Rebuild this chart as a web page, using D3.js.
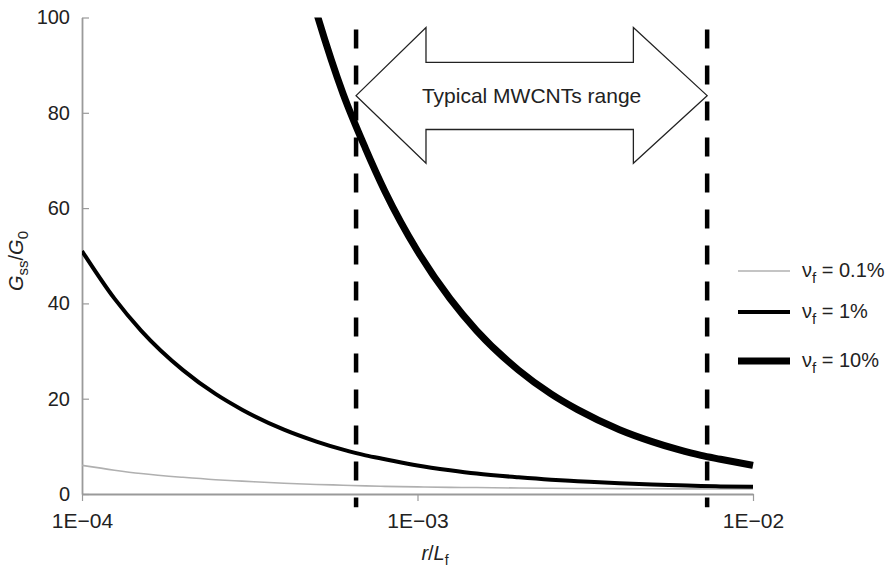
<!DOCTYPE html>
<html>
<head>
<meta charset="utf-8">
<style>
  body { margin: 0; background: #fff; }
  svg { font-family: 'Liberation Sans', Arial, sans-serif; }
  .tick text { font-size: 20px; fill: #222; }
  .x .tick text { font-size: 21px; }
  .axis .domain { stroke: #9a9a9a; stroke-width: 1.8; }
  .axis .tick line { stroke: #9a9a9a; stroke-width: 1.2; }
  .legend text { font-size: 20px; fill: #222; }
  .axis-label { font-size: 20px; fill: #222; }
</style>
</head>
<body>
<svg width="892" height="569"></svg>
<script src="https://d3js.org/d3.v7.min.js"></script>
<script>
  // r/Lf sample points and G_ss/G_0
  const rRatio = [1e-4, 1.25e-4, 1.5e-4, 2e-4, 2.5e-4, 3e-4, 4e-4, 5e-4, 6e-4, 7e-4, 8e-4,
                  1e-3, 1.25e-3, 1.5e-3, 2e-3, 2.5e-3, 3e-3, 4e-3, 5e-3, 6e-3, 7e-3, 8e-3, 1e-2];
  const g01 = [6, 5, 4.3, 3.5, 3, 2.7, 2.25, 2, 1.85, 1.7, 1.6,
               1.5, 1.4, 1.35, 1.25, 1.2, 1.17, 1.13, 1.1, 1.08, 1.07, 1.06, 1.05];
  const g1 = [51, 41, 34.3, 26, 21, 17.7, 13.5, 11, 9.3, 8.1, 7.3,
              6, 5, 4.3, 3.5, 3, 2.7, 2.25, 2, 1.85, 1.7, 1.6, 1.5];
  const g10 = [null, null, null, null, null, null, 126, 101, 84, 72.5, 63.5,
               51, 41, 34.3, 26, 21, 17.7, 13.5, 11, 9.3, 8.1, 7.3, 6];

  const seriesLabels = ["0.1%", "1%", "10%"];

  const xTicks = [1e-4, 1e-3, 1e-2];
  const xTickLabels = ["1E\u221204", "1E\u221203", "1E\u221202"];
  const yTicks = [0, 20, 40, 60, 80, 100];

  // typical MWCNT range (dashed lines) and the double arrow between them
  const rangeBounds = [6.56e-4, 7.3e-3];
  const arrowHeadX = [1.06e-3, 4.4e-3];
  const arrowTipY = 83.6;
  const arrowHeadY = [97.9, 69.4];
  const arrowShaftY = [90.6, 76.5];

  const margin = { top: 17.5, right: 139, bottom: 75, left: 82 };
  const width = 892, height = 569;

  const svg = d3.select("svg");

  const x = d3.scaleLog()
    .domain([1e-4, 1e-2])
    .range([margin.left, width - margin.right]);

  const y = d3.scaleLinear()
    .domain([0, 100])
    .range([height - margin.bottom, margin.top]);

  svg.append("defs").append("clipPath")
    .attr("id", "plot-clip")
    .append("rect")
    .attr("x", margin.left)
    .attr("y", margin.top)
    .attr("width", width - margin.left - margin.right + 4)
    .attr("height", height - margin.top - margin.bottom);

  // axes
  svg.append("g")
    .attr("class", "axis x")
    .attr("transform", `translate(0,${height - margin.bottom})`)
    .call(d3.axisBottom(x)
      .tickValues(xTicks)
      .tickFormat((d, i) => xTickLabels[i])
      .tickSize(7)
      .tickSizeOuter(0)
      .tickPadding(12));

  svg.append("g")
    .attr("class", "axis y")
    .attr("transform", `translate(${margin.left},0)`)
    .call(d3.axisLeft(y)
      .tickValues(yTicks)
      .tickSize(-7)
      .tickSizeOuter(0)
      .tickPadding(12));

  // curves
  const lineData = [
    { vals: g01, stroke: "#b0b0b0", w: 1.6 },
    { vals: g1, stroke: "#000", w: 4 },
    { vals: g10, stroke: "#000", w: 7 }
  ];

  const line = d3.line()
    .defined(d => d[1] != null)
    .x(d => x(d[0]))
    .y(d => y(d[1]))
    .curve(d3.curveMonotoneX);

  svg.append("g")
    .attr("clip-path", "url(#plot-clip)")
    .selectAll("path")
    .data(lineData)
    .join("path")
    .attr("fill", "none")
    .attr("stroke", d => d.stroke)
    .attr("stroke-width", d => d.w)
    .attr("d", d => line(rRatio.map((r, i) => [r, d.vals[i]])));

  // dashed range lines
  svg.append("g")
    .selectAll("line")
    .data(rangeBounds)
    .join("line")
    .attr("x1", d => x(d))
    .attr("x2", d => x(d))
    .attr("y1", y(97.5))
    .attr("y2", y(-2.8))
    .attr("stroke", "#000")
    .attr("stroke-width", 4.5)
    .attr("stroke-dasharray", "19,17");

  // double-headed block arrow
  const pts = [
    [x(rangeBounds[0]), y(arrowTipY)],
    [x(arrowHeadX[0]), y(arrowHeadY[0])],
    [x(arrowHeadX[0]), y(arrowShaftY[0])],
    [x(arrowHeadX[1]), y(arrowShaftY[0])],
    [x(arrowHeadX[1]), y(arrowHeadY[0])],
    [x(rangeBounds[1]), y(arrowTipY)],
    [x(arrowHeadX[1]), y(arrowHeadY[1])],
    [x(arrowHeadX[1]), y(arrowShaftY[1])],
    [x(arrowHeadX[0]), y(arrowShaftY[1])],
    [x(arrowHeadX[0]), y(arrowHeadY[1])]
  ];
  svg.append("path")
    .attr("d", "M" + pts.join("L") + "Z")
    .attr("fill", "#fff")
    .attr("stroke", "#222")
    .attr("stroke-width", 1.3);

  svg.append("text")
    .attr("x", (x(rangeBounds[0]) + x(rangeBounds[1])) / 2)
    .attr("y", y(arrowTipY) + 7)
    .attr("text-anchor", "middle")
    .attr("font-size", 21)
    .attr("fill", "#222")
    .text("Typical MWCNTs range");

  // legend
  const legendY = [271, 312, 361];
  const legend = svg.append("g").attr("class", "legend");
  lineData.forEach((d, i) => {
    legend.append("line")
      .attr("x1", 738).attr("x2", 790)
      .attr("y1", legendY[i]).attr("y2", legendY[i])
      .attr("stroke", d.stroke)
      .attr("stroke-width", d.w);
    const t = legend.append("text")
      .attr("x", 802)
      .attr("y", legendY[i] + 6);
    t.append("tspan").text("\u03bd");
    t.append("tspan").attr("font-size", 15).attr("dy", 6).text("f");
    t.append("tspan").attr("dy", -6).text(" = " + seriesLabels[i]);
  });

  // axis titles
  const yl = svg.append("text")
    .attr("class", "axis-label")
    .attr("transform", "translate(23,261) rotate(-90)")
    .attr("text-anchor", "middle");
  yl.append("tspan").attr("font-style", "italic").text("G");
  yl.append("tspan").attr("font-size", 15).attr("dy", 5).text("ss");
  yl.append("tspan").attr("dy", -5).text("/");
  yl.append("tspan").attr("font-style", "italic").text("G");
  yl.append("tspan").attr("font-size", 15).attr("dy", 5).text("0");

  const xl = svg.append("text")
    .attr("class", "axis-label")
    .attr("x", 435)
    .attr("y", 560)
    .attr("font-size", 19)
    .attr("text-anchor", "middle");
  xl.append("tspan").attr("font-style", "italic").text("r");
  xl.append("tspan").text("/");
  xl.append("tspan").attr("font-style", "italic").text("L");
  xl.append("tspan").attr("font-size", 14).attr("dy", 5).text("f");
</script>
</body>
</html>
